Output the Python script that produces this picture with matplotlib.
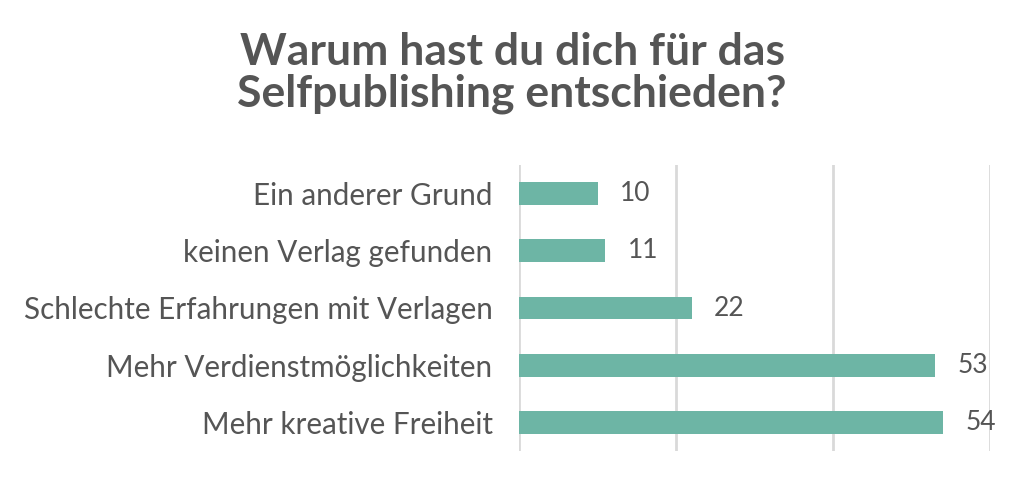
import matplotlib.pyplot as plt

plt.rcParams["font.family"] = ["Lato", "DejaVu Sans"]

categories = [
    "Mehr kreative Freiheit",
    "Mehr Verdienstmöglichkeiten",
    "Schlechte Erfahrungen mit Verlagen",
    "keinen Verlag gefunden",
    "Ein anderer Grund",
]
values = [54, 53, 22, 11, 10]
x_ticks = [0, 20, 40, 60]

text_color = "#555555"
bar_color = "#6db5a5"

fig = plt.figure(figsize=(10.24, 4.8), dpi=100)
ax = fig.add_axes([519 / 1024, 1 - 451 / 480, (990 - 519) / 1024, 286 / 480])

ypos = range(len(categories))
ax.barh(ypos, values, height=0.4, color=bar_color, zorder=3)

for y, v in zip(ypos, values):
    ax.annotate(str(v), (v, y), xytext=(16, 0), textcoords="offset points",
                va="center", ha="left", fontsize=19, color=text_color)

ax.set_xlim(0, 60)
ax.set_ylim(-0.5, len(categories) - 0.5)
ax.set_xticks(x_ticks)
ax.set_xticklabels([])
ax.grid(axis="x", color="#d9d9d9", linewidth=2, zorder=0)
ax.set_yticks(list(ypos))
ax.set_yticklabels(categories, fontsize=21.3, color=text_color)
ax.tick_params(axis="both", length=0, pad=19)
for s in ax.spines.values():
    s.set_visible(False)

fig.text(0.5, 1 - 73 / 480, "Warum hast du dich für das\nSelfpublishing entschieden?",
         ha="center", va="center", fontsize=32, fontweight="bold",
         color=text_color, linespacing=1.05)

fig.savefig("out.png", dpi=100)
